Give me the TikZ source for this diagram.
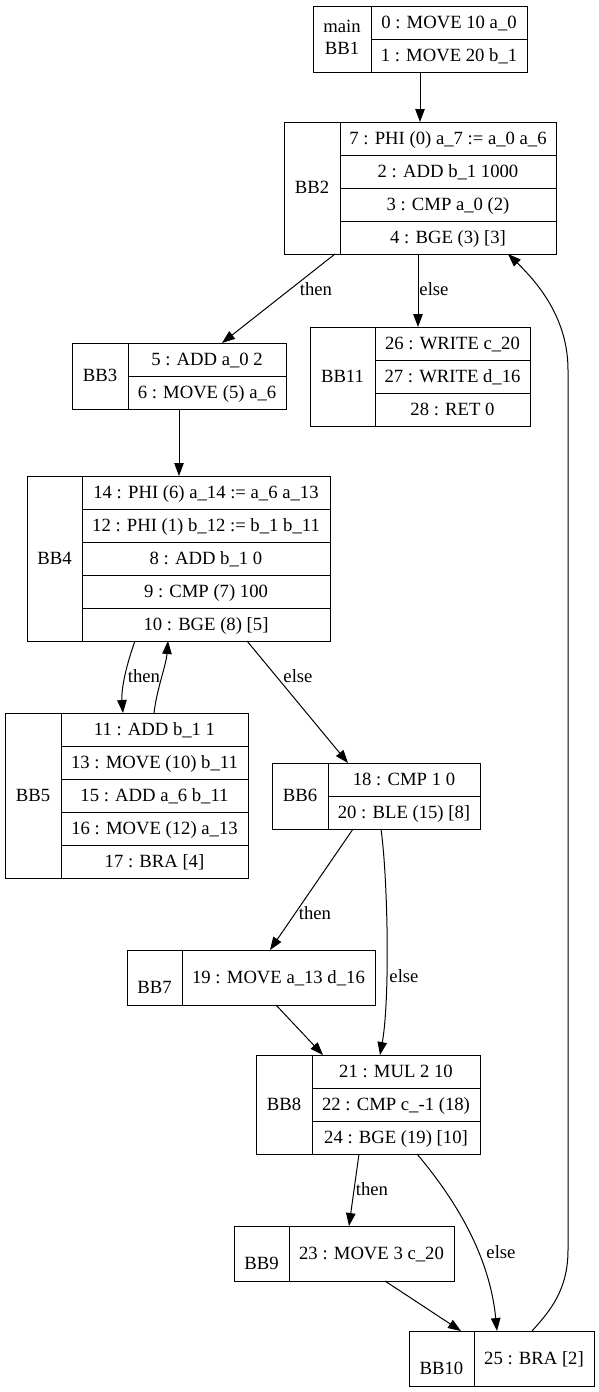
\documentclass[tikz,border=0pt]{standalone}
\usepackage{fontspec}
\setmainfont{Liberation Serif}
\usetikzlibrary{arrows.meta}
\begin{document}
\begin{tikzpicture}[x=1pt,y=-1pt,
  font=\fontsize{18.67}{22.4}\selectfont,
  every node/.style={inner sep=0pt, outer sep=0pt},
  frame/.style={rectangle, anchor=north west},
  cell/.style={draw, rectangle, line width=1pt, anchor=north west,
    text height=14pt, text depth=3pt, minimum height=33pt},
  lab2/.style={cell, align=center, text height=34pt, text depth=3pt},
  flow/.style={line width=1pt, -{Triangle[length=13pt,width=9.5pt]}},
  elabel/.style={text height=14pt, text depth=3pt}
]
\useasboundingbox (0,0) rectangle (599,1392);

% BB1
\node[frame, minimum width=214pt, minimum height=66pt] (bb1) at (313,6) {};
\node[lab2, minimum width=58pt, minimum height=66pt] (b1) at (313,6) {main\\BB1};
\node[cell, minimum width=156pt] (b1a) at (371,6) {0 : MOVE 10 a\_0};
\node[cell, minimum width=156pt] (b1b) at (b1a.south west) {1 : MOVE 20 b\_1};

% BB2
\node[frame, minimum width=272pt, minimum height=132pt] (bb2) at (284,122) {};
\node[cell, minimum width=56pt, minimum height=132pt] (b2) at (284,122) {BB2};
\node[cell, minimum width=216pt] (b2a) at (340,122) {7 : PHI (0) a\_7 := a\_0 a\_6};
\node[cell, minimum width=216pt] (b2b) at (b2a.south west) {2 : ADD b\_1 1000};
\node[cell, minimum width=216pt] (b2c) at (b2b.south west) {3 : CMP a\_0 (2)};
\node[cell, minimum width=216pt] (b2d) at (b2c.south west) {4 : BGE (3) [3]};

% BB3
\node[frame, minimum width=214pt, minimum height=66pt] (bb3) at (72,343) {};
\node[cell, minimum width=56pt, minimum height=66pt] (b3) at (72,343) {BB3};
\node[cell, minimum width=158pt] (b3a) at (128,343) {5 : ADD a\_0 2};
\node[cell, minimum width=158pt] (b3b) at (b3a.south west) {6 : MOVE (5) a\_6};

% BB11
\node[frame, minimum width=220pt, minimum height=99pt] (bb11) at (310,327) {};
\node[cell, minimum width=65pt, minimum height=99pt] (b11) at (310,327) {BB11};
\node[cell, minimum width=155pt] (b11a) at (375,327) {26 : WRITE c\_20};
\node[cell, minimum width=155pt] (b11b) at (b11a.south west) {27 : WRITE d\_16};
\node[cell, minimum width=155pt] (b11c) at (b11b.south west) {28 : RET 0};

% BB4
\node[frame, minimum width=303pt, minimum height=165pt] (bb4) at (27,476) {};
\node[cell, minimum width=55pt, minimum height=165pt] (b4) at (27,476) {BB4};
\node[cell, minimum width=248pt] (b4a) at (82,476) {14 : PHI (6) a\_14 := a\_6 a\_13};
\node[cell, minimum width=248pt] (b4b) at (b4a.south west) {12 : PHI (1) b\_12 := b\_1 b\_11};
\node[cell, minimum width=248pt] (b4c) at (b4b.south west) {8 : ADD b\_1 0};
\node[cell, minimum width=248pt] (b4d) at (b4c.south west) {9 : CMP (7) 100};
\node[cell, minimum width=248pt] (b4e) at (b4d.south west) {10 : BGE (8) [5]};

% BB5
\node[frame, minimum width=243pt, minimum height=165pt] (bb5) at (5,713) {};
\node[cell, minimum width=56pt, minimum height=165pt] (b5) at (5,713) {BB5};
\node[cell, minimum width=187pt] (b5a) at (61,713) {11 : ADD b\_1 1};
\node[cell, minimum width=187pt] (b5b) at (b5a.south west) {13 : MOVE (10) b\_11};
\node[cell, minimum width=187pt] (b5c) at (b5b.south west) {15 : ADD a\_6 b\_11};
\node[cell, minimum width=187pt] (b5d) at (b5c.south west) {16 : MOVE (12) a\_13};
\node[cell, minimum width=187pt] (b5e) at (b5d.south west) {17 : BRA [4]};

% BB6
\node[frame, minimum width=208pt, minimum height=66pt] (bb6) at (272,763) {};
\node[cell, minimum width=56pt, minimum height=66pt] (b6) at (272,763) {BB6};
\node[cell, minimum width=152pt] (b6a) at (328,763) {18 : CMP 1 0};
\node[cell, minimum width=152pt] (b6b) at (b6a.south west) {20 : BLE (15) [8]};

% BB7
\node[frame, minimum width=248pt, minimum height=55pt] (bb7) at (127,950) {};
\node[lab2, minimum width=55pt, minimum height=55pt] (b7) at (127,950) {\phantom{B}\\BB7};
\node[cell, minimum width=193pt, minimum height=55pt] (b7a) at (182,950) {19 : MOVE a\_13 d\_16};

% BB8
\node[frame, minimum width=224pt, minimum height=99pt] (bb8) at (256,1055) {};
\node[cell, minimum width=56pt, minimum height=99pt] (b8) at (256,1055) {BB8};
\node[cell, minimum width=168pt] (b8a) at (312,1055) {21 : MUL 2 10};
\node[cell, minimum width=168pt] (b8b) at (b8a.south west) {22 : CMP c\_-1 (18)};
\node[cell, minimum width=168pt] (b8c) at (b8b.south west) {24 : BGE (19) [10]};

% BB9
\node[frame, minimum width=220pt, minimum height=55pt] (bb9) at (234,1226) {};
\node[lab2, minimum width=55pt, minimum height=55pt] (b9) at (234,1226) {\phantom{B}\\BB9};
\node[cell, minimum width=165pt, minimum height=55pt] (b9a) at (289,1226) {23 : MOVE 3 c\_20};

% BB10
\node[frame, minimum width=185pt, minimum height=55pt] (bb10) at (409,1331) {};
\node[lab2, minimum width=65pt, minimum height=55pt] (b10) at (409,1331) {\phantom{B}\\BB10};
\node[cell, minimum width=120pt, minimum height=55pt] (b10a) at (474,1331) {25 : BRA [2]};

% control flow
\draw[flow] ([xshift=107pt]bb1.south west) -- ([xshift=136pt]bb2.north west);
\draw[flow] ([xshift=51pt]bb2.south west) -- ([xshift=150pt]bb3.north west);
\draw[flow] ([xshift=134pt]bb2.south west) -- ([xshift=108pt]bb11.north west);
\draw[flow] ([xshift=107pt]bb3.south west) -- ([xshift=152pt]bb4.north west);
\draw[flow] ([xshift=108pt]bb4.south west) .. controls +(-8,22) and +(-2,-25) .. ([xshift=118pt]bb5.north west);
\draw[flow] ([xshift=149pt]bb5.north west) .. controls +(3,-25) and +(-2,25) .. ([xshift=141pt]bb4.south west);
\draw[flow] ([xshift=220pt]bb4.south west) -- ([xshift=76pt]bb6.north west);
\draw[flow] ([xshift=81pt]bb6.south west) -- ([xshift=143pt]bb7.north west);
\draw[flow] ([xshift=109pt]bb6.south west) .. controls +(7,51) and +(10,-55) .. ([xshift=124pt]bb8.north west);
\draw[flow] ([xshift=149pt]bb7.south west) -- ([xshift=67pt]bb8.north west);
\draw[flow] ([xshift=103pt]bb8.south west) -- ([xshift=115pt]bb9.north west);
\draw[flow] ([xshift=161pt]bb8.south west) .. controls +(43,51) and +(-7,-71) .. ([xshift=88pt]bb10.north west);
\draw[flow] ([xshift=151pt]bb9.south west) -- ([xshift=52pt]bb10.north west);
\draw[flow] ([xshift=123pt]bb10.north west) .. controls +(18,-20) and +(0,40) .. ++(36,-81)
  -- ++(0,-880) .. controls +(0,-50) and +(32,31) .. ([xshift=224pt]bb2.south west);

% branch labels
\node[elabel] (t2) at (316,290) {then};
\node[elabel] (e2) at (434,290) {else};
\node[elabel] (t4) at (144,677) {then};
\node[elabel] (e4) at (298,677) {else};
\node[elabel] (t6) at (315,914) {then};
\node[elabel] (e6) at (404,977) {else};
\node[elabel] (t8) at (372,1190) {then};
\node[elabel] (e8) at (501,1253) {else};
\end{tikzpicture}
\end{document}
